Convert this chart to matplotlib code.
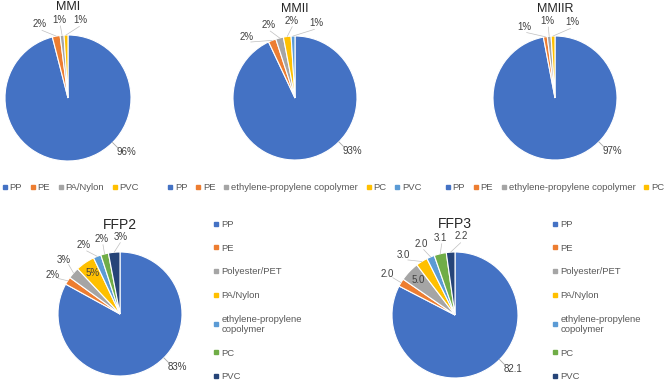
import numpy as np
import matplotlib
matplotlib.use("Agg")
import matplotlib.pyplot as plt
from matplotlib.lines import Line2D

plt.rcParams['font.family'] = ['Liberation Sans', 'DejaVu Sans']

# ---------------- data ----------------
mmi_labels = ["PP", "PE", "PA/Nylon", "PVC"]
mmi_values = [96, 2, 1, 1]

mmii_labels = ["PP", "PE", "ethylene-propylene copolymer", "PC", "PVC"]
mmii_values = [93, 2, 2, 2, 1]

mmiir_labels = ["PP", "PE", "ethylene-propylene copolymer", "PC"]
mmiir_values = [97, 1, 1, 1]

ffp_labels = ["PP", "PE", "Polyester/PET", "PA/Nylon",
              "ethylene-propylene\ncopolymer", "PC", "PVC"]
ffp2_values = [83, 2, 3, 5, 2, 2, 3]
ffp3_values = [82.1, 2.0, 5.0, 3.0, 2.0, 3.1, 2.2]

# ---------------- style ----------------
COL = {"PP": "#4472C4", "PE": "#ED7D31", "GRAY": "#A5A5A5", "YEL": "#FFC000",
       "LB": "#5B9BD5", "GR": "#70AD47", "NAVY": "#264478"}
mmi_colors = [COL["PP"], COL["PE"], COL["GRAY"], COL["YEL"]]
mmii_colors = [COL["PP"], COL["PE"], COL["GRAY"], COL["YEL"], COL["LB"]]
mmiir_colors = [COL["PP"], COL["PE"], COL["GRAY"], COL["YEL"]]
ffp_colors = [COL["PP"], COL["PE"], COL["GRAY"], COL["YEL"], COL["LB"], COL["GR"], COL["NAVY"]]

TXT = "#595959"
W, H = 669, 380
fig = plt.figure(figsize=(W / 100, H / 100), dpi=100)
L = 1.7


def pie_axes(cx, cy, r):
    ax = fig.add_axes([(cx - r * L) / W, 1 - (cy + r * L) / H, 2 * r * L / W, 2 * r * L / H])
    return ax


def spread(angles, sep):
    items = sorted(angles, key=lambda t: -t[1])
    clusters = [[it] for it in items]

    def pos(cl):
        m = np.mean([a for _, a in cl])
        n = len(cl)
        return [m + sep * ((n - 1) / 2 - k) for k in range(n)]
    changed = True
    while changed:
        changed = False
        for i in range(len(clusters) - 1):
            p1 = pos(clusters[i]); p2 = pos(clusters[i + 1])
            if p1[-1] - p2[0] < sep:
                clusters[i] = clusters[i] + clusters[i + 1]
                del clusters[i + 1]
                changed = True
                break
    out = {}
    for cl in clusters:
        for (idx, _), a in zip(cl, pos(cl)):
            out[idx] = a
    return out


def draw_pie(cx, cy, r, values, colors, title, fmt, tsize, lsize, sep):
    ax = pie_axes(cx, cy, r)
    wedges, _ = ax.pie(values, colors=colors, startangle=90, counterclock=False,
                       normalize=True, radius=1.0,
                       wedgeprops=dict(edgecolor="white", linewidth=0.8))
    ax.set_xlim(-L, L)
    ax.set_ylim(-L, L)
    ax.set_aspect('equal')
    ax.axis('off')
    total = sum(values)
    big = int(np.argmax(values))
    outside = []
    for i, w in enumerate(wedges):
        mid = (w.theta1 + w.theta2) / 2
        if i == big:
            a = np.deg2rad(-45)
            ax.plot([np.cos(a) * 1.0, np.cos(a) * 1.12], [np.sin(a) * 1.0, np.sin(a) * 1.12],
                    color="#A6A6A6", lw=0.6)
            ax.text(np.cos(a) * 1.3, np.sin(a) * 1.22, fmt(values[i]), ha="center", va="center",
                    fontsize=lsize, color="#404040")
        elif values[i] / total >= 0.045:
            a = np.deg2rad(mid)
            ax.text(np.cos(a) * 0.8, np.sin(a) * 0.8, fmt(values[i]), ha="center", va="center",
                    fontsize=lsize, color="#404040")
        else:
            outside.append((i, mid))
    pos = spread(outside, sep)
    for i, mid in outside:
        a = np.deg2rad(pos[i]); m = np.deg2rad(mid)
        rl = 1.25
        ax.plot([np.cos(m) * 1.0, np.cos(a) * (rl - 0.1)], [np.sin(m) * 1.0, np.sin(a) * (rl - 0.1)],
                color="#BFBFBF", lw=0.5)
        ax.text(np.cos(a) * rl, np.sin(a) * rl, fmt(values[i]), ha="center", va="center",
                fontsize=lsize, color="#404040")
    ax.text(0, 1.44, title, ha="center", va="center", fontsize=tsize, color="#262626")
    return ax


def handles(colors):
    return [Line2D([0], [0], marker='s', linestyle='none', markersize=2.6,
                   markerfacecolor=c, markeredgecolor=c) for c in colors]


pct = lambda v: f"{v:.0f}%"
dec = lambda v: f"{v:.1f}"

draw_pie(68, 98, 63, mmi_values, mmi_colors, "MMI", pct, 9, 7, 15)
draw_pie(295, 98, 62, mmii_values, mmii_colors, "MMII", pct, 9, 7, 18)
draw_pie(555, 98, 62, mmiir_values, mmiir_colors, "MMIIR", pct, 9, 7, 18)
draw_pie(120, 314, 62, ffp2_values, ffp_colors, "FFP2", pct, 10, 7, 14)
draw_pie(455, 315, 63, ffp3_values, ffp_colors, "FFP3", dec, 10, 7, 15)

for labels, colors, cx in [(mmi_labels, mmi_colors, 71), (mmii_labels, mmii_colors, 295),
                           (mmiir_labels, mmiir_colors, 555)]:
    fig.legend(handles(colors), labels, ncol=len(labels), loc="center",
               bbox_to_anchor=(cx / W, 1 - 188 / H), frameon=False, fontsize=6.8,
               handlelength=0.4, handletextpad=0.3, columnspacing=0.95, labelcolor=TXT,
               borderpad=0, borderaxespad=0)

for x0 in [214, 553]:
    fig.legend(handles(ffp_colors), ffp_labels, ncol=1, loc="upper left",
               bbox_to_anchor=(x0 / W, 1 - 220 / H), frameon=False, fontsize=6.8,
               handlelength=0.4, handletextpad=0.4, labelspacing=1.55, labelcolor=TXT,
               borderpad=0, borderaxespad=0)

fig.savefig("out.png", dpi=100)
